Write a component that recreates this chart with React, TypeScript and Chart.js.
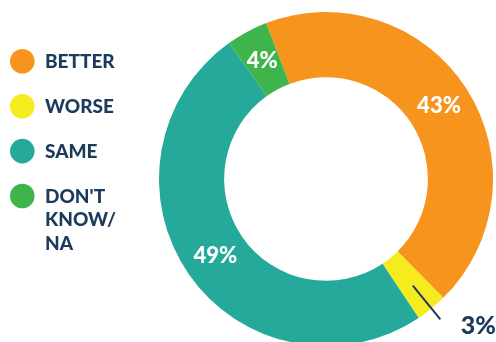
import React, { useEffect, useRef } from "react";
import { Chart, registerables } from "chart.js";

Chart.register(...registerables);

const categories = ["BETTER", "WORSE", "SAME", "DON'T KNOW/ NA"];
const legendLines = [["BETTER"], ["WORSE"], ["SAME"], ["DON'T", "KNOW/", "NA"]];
const values = [43, 3, 49, 4];
const valueLabels = ["43%", "3%", "49%", "4%"];
const colors = ["#F7941D", "#F5EB1E", "#25A99B", "#3DB54A"];
const NAVY = "#1B3A5C";
const FONT = "Lato, 'DejaVu Sans', sans-serif";

const overlay = {
  id: "overlay",
  afterDatasetsDraw(chart: any) {
    const ctx = chart.ctx as CanvasRenderingContext2D;
    const meta = chart.getDatasetMeta(0);
    ctx.save();
    // legend
    ctx.textAlign = "left";
    ctx.textBaseline = "alphabetic";
    ctx.font = `900 19px ${FONT}`;
    legendLines.forEach((lines, i) => {
      const cy = 61.3 + i * 44.9;
      ctx.fillStyle = colors[i];
      ctx.beginPath();
      ctx.arc(22.3, cy, 12.3, 0, Math.PI * 2);
      ctx.fill();
      ctx.fillStyle = NAVY;
      lines.forEach((t, j) => ctx.fillText(t, 45, cy + 6.5 + j * 23.7));
    });
    // value labels
    ctx.textAlign = "center";
    ctx.textBaseline = "middle";
    meta.data.forEach((arc: any, i: number) => {
      const p = arc.getProps(["x", "y", "startAngle", "endAngle", "innerRadius", "outerRadius"], true);
      if (values[i] <= 3) {
        const mid = (p.startAngle + p.endAngle) / 2;
        const r0 = (p.innerRadius + p.outerRadius) / 2 + 3;
        const r1 = p.outerRadius + 14;
        const x0 = p.x + Math.cos(mid) * r0;
        const y0 = p.y + Math.sin(mid) * r0;
        const x1 = p.x + Math.cos(mid) * r1;
        const y1 = p.y + Math.sin(mid) * r1;
        ctx.strokeStyle = NAVY;
        ctx.lineWidth = 2;
        ctx.beginPath();
        ctx.moveTo(x0, y0);
        ctx.lineTo(x1, y1);
        ctx.stroke();
        ctx.font = `900 25px ${FONT}`;
        ctx.fillStyle = NAVY;
        ctx.fillText(valueLabels[i], x1 + 38, y1 + 7);
      } else {
        const pos = arc.tooltipPosition(true);
        ctx.font = `900 22px ${FONT}`;
        ctx.fillStyle = "#FFFFFF";
        ctx.fillText(valueLabels[i], pos.x, pos.y);
      }
    });
    ctx.restore();
  },
};

export default function App() {
  const ref = useRef<HTMLCanvasElement>(null);
  useEffect(() => {
    if (!ref.current) return;
    const chart = new Chart(ref.current, {
      type: "doughnut",
      data: {
        labels: categories,
        datasets: [
          {
            data: values,
            backgroundColor: colors,
            borderWidth: 0,
          },
        ],
      },
      options: {
        animation: false,
        responsive: false,
        devicePixelRatio: 1,
        rotation: -21,
        cutout: "61%",
        layout: { padding: { left: 159, right: 3, top: 12, bottom: 14 } },
        plugins: {
          legend: { display: false },
          tooltip: { enabled: false },
        },
      },
      plugins: [overlay],
    });
    return () => chart.destroy();
  }, []);
  return (
    <div
      style={{
        position: "fixed",
        left: 0,
        top: 0,
        width: 496,
        height: 342,
        overflow: "hidden",
        background: "#fff",
      }}
    >
      <canvas ref={ref} width={496} height={360} style={{ display: "block" }} />
    </div>
  );
}
